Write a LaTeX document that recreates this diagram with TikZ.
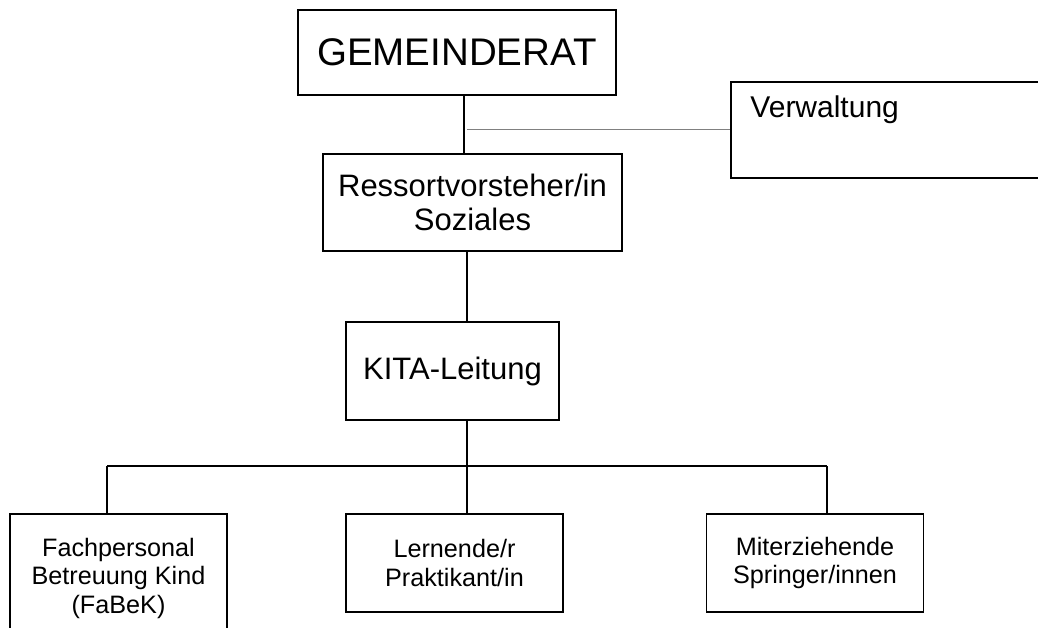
\documentclass[tikz,border=0pt]{standalone}
\usepackage{fontspec}
\setmainfont{Liberation Sans}
\usetikzlibrary{positioning}

\begin{document}
\begin{tikzpicture}[x=1pt, y=-1pt,
    box/.style={draw=black,line width=1.5pt,inner sep=0pt,align=center},
    link/.style={draw=black,line width=1.5pt},
    sidelink/.style={draw=gray,line width=0.8pt},
    big/.style={font=\fontsize{38.5}{42}\selectfont},
    mid/.style={font=\fontsize{31}{33.5}\selectfont},
    small/.style={font=\fontsize{25.2}{28.5}\selectfont}
  ]
    \useasboundingbox (0,0) rectangle (1038,627);
    \clip (0,0) rectangle (1038,627);

    \node[box, big, minimum width=318pt, minimum height=85pt] (rat) at (457,52.5) {GEMEINDERAT};
    \node[box, mid, minimum width=299pt, minimum height=97pt] (ressort) at (472.5,202.5) {Ressortvorsteher/in\\Soziales};
    \node[box, mid, minimum width=213pt, minimum height=98pt] (kita) at (452.5,371) {KITA-Leitung};

    \node[box, minimum width=340pt, minimum height=96pt] (verw) at (901,130) {};
    \node[font=\fontsize{30}{33}\selectfont, anchor=base west, inner sep=0pt] (verwtext) at ([xshift=20pt,yshift=-36pt]verw.north west) {Verwaltung};

    \node[box, small, minimum width=217pt, minimum height=128pt] (fach) at (118.5,578) {Fachpersonal\\Betreuung Kind\\(FaBeK)};
    \node[box, small, minimum width=217pt, minimum height=98pt] (lern) at (454.5,563) {Lernende/r\\Praktikant/in};
    \node[box, small, minimum width=217pt, minimum height=98pt] (miter) at (815,563) {Miterziehende\\Springer/innen};

    \coordinate (stemtop) at (464,0);
    \coordinate (stemmid) at (467,0);
    \coordinate (side) at (467,129);
    \coordinate (drop1) at (107,466);
    \coordinate (drop2) at (467,466);
    \coordinate (drop3) at (827,466);

    \draw[link] (rat.south -| stemtop) -- (ressort.north -| stemtop);
    \draw[sidelink] (side) -- (side -| verw.west);
    \draw[link] (ressort.south -| stemmid) -- (kita.north -| stemmid);

    \draw[link] (kita.south -| drop2) -- (drop2);
    \draw[link] (drop1) -- (drop3);
    \draw[link] (drop1) -- (fach.north -| drop1);
    \draw[link] (drop2) -- (lern.north -| drop2);
    \draw[link] (drop3) -- (miter.north -| drop3);

\end{tikzpicture}
\end{document}
